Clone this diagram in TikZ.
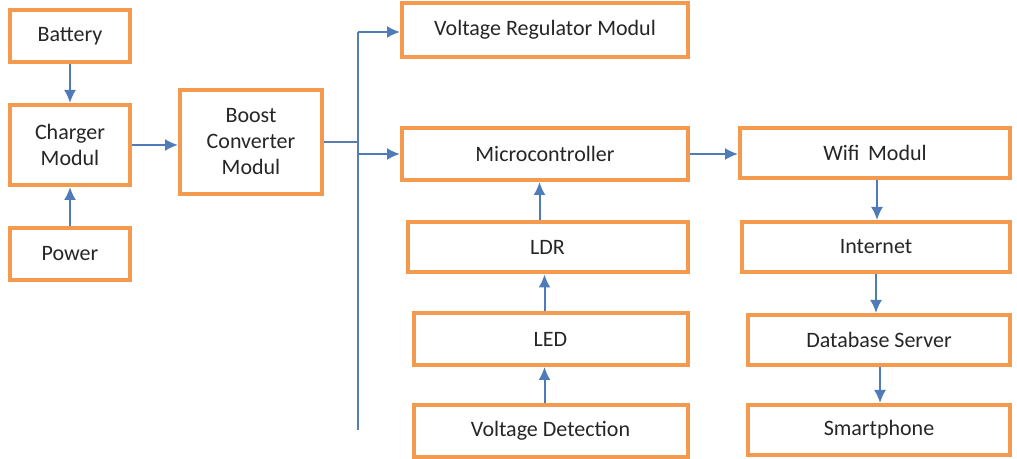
\documentclass[tikz,border=0pt]{standalone}
\usepackage{fontspec}
\setmainfont{Carlito}
\usetikzlibrary{arrows.meta,positioning,calc}
\definecolor{edge}{HTML}{F39A4E}
\definecolor{wire}{HTML}{4F7CB8}
\definecolor{ink}{HTML}{262626}
\tikzset{
 box/.style={draw=edge,fill=white,line width=2pt,align=center,text=ink,inner sep=2pt},
 flow/.style={-{Latex[length=6.5pt,width=6pt]},draw=wire,line width=1pt},
 bus/.style={draw=wire!80!gray,line width=.8pt}
}

\begin{document}
\begin{tikzpicture}[x=0.5pt,y=-0.5pt,font=\fontsize{11}{13}\selectfont]
  \useasboundingbox (0,0) rectangle (1017,459);

  % left column
  \node[box,minimum width=60pt,minimum height=26pt] (battery) at (70,36) {Battery};
  \node[box,minimum width=60pt,minimum height=40pt] (charger) at (70,145) {Charger\\Modul};
  \node[box,minimum width=60pt,minimum height=26pt] (power) at (70,254) {Power};
  \node[box,minimum width=71pt,minimum height=52pt] (boost) at (251,142) {Boost\\Converter\\Modul};

  % middle column
  \node[box,minimum width=143pt,minimum height=27pt] (vreg) at (545,30) {Voltage Regulator Modul};
  \node[box,minimum width=143pt,minimum height=26pt] (micro) at (545,154) {Microcontroller};
  \node[box,minimum width=140pt,minimum height=25pt] (ldr) at (547.5,247.5) {LDR};
  \node[box,minimum width=137pt,minimum height=26pt] (led) at (550.5,339) {LED};
  \node[box,minimum width=137pt,minimum height=26pt] (vdet) at (550.5,431) {Voltage Detection};

  % right column
  \node[box,minimum width=135pt,minimum height=25pt] (wifi) at (875,153) {Wifi\, Modul};
  \node[box,minimum width=134pt,minimum height=25pt] (inet) at (876,247) {Internet};
  \node[box,minimum width=131pt,minimum height=25pt] (dbase) at (879,340) {Database Server};
  \node[box,minimum width=131pt,minimum height=25pt] (phone) at (879,430) {Smartphone};

  % power bus
  \coordinate (bustop) at (358,32);
  \coordinate (busbot) at (358,430);
  \draw[bus] (boost.east) -- (boost.east -| bustop);
  \draw[bus] (bustop) -- (busbot);

  \draw[flow] (battery) -- (charger);
  \draw[flow] (power) -- (charger);
  \draw[flow] (charger) -- (boost.west |- charger.east);
  \draw[flow] (bustop) -- (bustop -| vreg.west);
  \draw[flow] (micro.west -| bustop) -- (micro.west);
  \draw[flow] ([xshift=-4pt]ldr.north) -- ([xshift=-4pt]ldr.north |- micro.south);
  \draw[flow] ([xshift=-3pt]led.north) -- ([xshift=-3pt]led.north |- ldr.south);
  \draw[flow] ([xshift=-3pt]vdet.north) -- ([xshift=-3pt]vdet.north |- led.south);
  \draw[flow] (micro.east) -- (micro.east -| wifi.west);
  \draw[flow] ([xshift=1pt]wifi.south) -- ([xshift=1pt]wifi.south |- inet.north);
  \draw[flow] (inet.south) -- (inet.south |- dbase.north);
  \draw[flow] ([xshift=.5pt]dbase.south) -- ([xshift=.5pt]dbase.south |- phone.north);
\end{tikzpicture}
\end{document}
